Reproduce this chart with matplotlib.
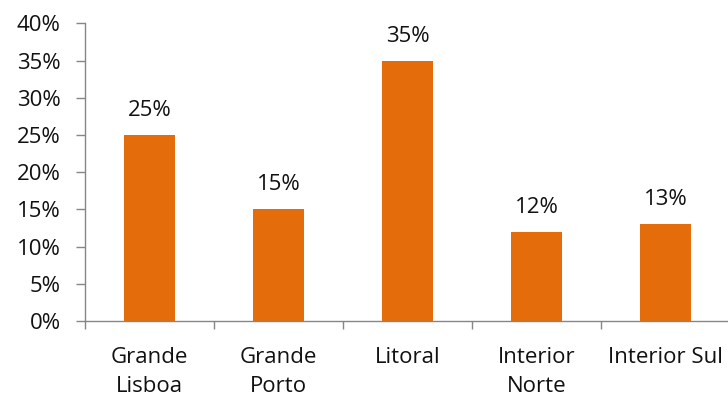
import matplotlib
matplotlib.use("Agg")
import matplotlib.pyplot as plt
from matplotlib.ticker import FixedLocator

plt.rcParams['font.family'] = ['Open Sans', 'DejaVu Sans']

regions = ["Grande\nLisboa", "Grande\nPorto", "Litoral", "Interior\nNorte", "Interior Sul"]
shares = [25, 15, 35, 12, 13]
y_ticks = [0, 5, 10, 15, 20, 25, 30, 35, 40]

fs = 16
fig = plt.figure(figsize=(7.28, 3.96), dpi=100)
ax = fig.add_axes([85 / 728, 75 / 396, 645 / 728, 297.5 / 396])

x = range(len(regions))
ax.bar(x, shares, width=0.40, color="#E46C0A", zorder=2)
for xi, v in zip(x, shares):
    ax.text(xi, v + 1.9, f"{v}%", ha="center", va="bottom", fontsize=fs, color="#111111")

ax.set_xlim(-0.5, len(regions) - 0.5)
ax.set_ylim(0, 40)
ax.set_yticks(y_ticks)
ax.set_yticklabels([f"{t}%" for t in y_ticks], fontsize=fs, color="#111111")

# category labels on the major ticks, boundary tick marks on the minor ones
ax.set_xticks(list(x))
ax.set_xticklabels(regions, fontsize=fs, linespacing=1.5, va="top", color="#111111")
ax.xaxis.set_minor_locator(FixedLocator([i - 0.5 for i in range(len(regions) + 1)]))
ax.tick_params(axis="x", which="major", length=0, pad=19)
ax.tick_params(axis="x", which="minor", length=6, color="#868686", width=1)
ax.tick_params(axis="y", length=6.5, color="#868686", width=1, pad=11)

for s in ("top", "right"):
    ax.spines[s].set_visible(False)
for s in ("left", "bottom"):
    ax.spines[s].set_color("#868686")
    ax.spines[s].set_linewidth(1)

fig.savefig("out.png", dpi=100)
